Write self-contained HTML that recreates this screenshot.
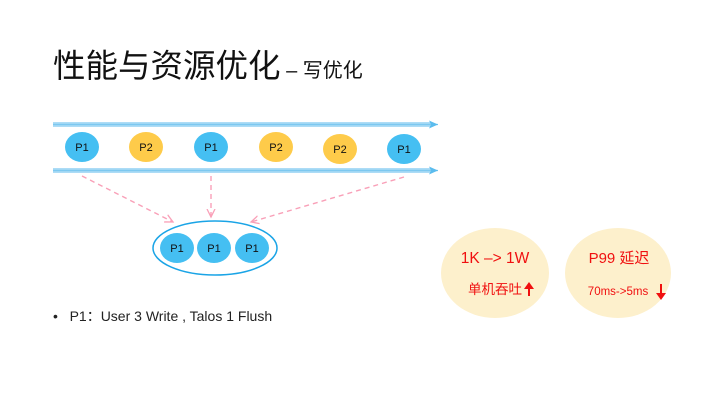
<!DOCTYPE html>
<html><head><meta charset="utf-8"><style>
body{margin:0;width:720px;height:405px;background:#fff;overflow:hidden;font-family:"Liberation Sans","Noto Sans CJK SC",sans-serif;position:relative}
.t{position:absolute;white-space:nowrap}
</style></head><body>
<div class="t" style="left:53px;top:40px;font-size:32.5px;color:#111">性能与资源优化<span style="font-size:20px"> – 写优化</span></div>
<svg width="720" height="405" style="position:absolute;left:0;top:0" font-family="Liberation Sans, sans-serif">
<defs>
<marker id="a" markerWidth="10" markerHeight="10" refX="9" refY="5" orient="auto" markerUnits="userSpaceOnUse"><path d="M0,1 L9,5 L0,9 L2,5 Z" fill="#5bbcee"/></marker>
<marker id="p" markerWidth="10" markerHeight="10" refX="8" refY="5" orient="auto" markerUnits="userSpaceOnUse"><path d="M0,1 L8,5 L0,9" fill="none" stroke="#f9a0b8" stroke-width="1.3"/></marker>
</defs>
<g stroke="#7cc8f0" stroke-width="1.2" fill="none">
<line x1="53" y1="123" x2="432" y2="123"/><line x1="53" y1="126" x2="432" y2="126"/>
<line x1="53" y1="169" x2="432" y2="169"/><line x1="53" y1="172" x2="432" y2="172"/>
<line x1="53" y1="124.5" x2="438" y2="124.5" marker-end="url(#a)"/><line x1="53" y1="170.5" x2="438" y2="170.5" marker-end="url(#a)"/>
</g>
<g stroke="#f9a0b8" stroke-width="1.4" stroke-dasharray="5,4" fill="none">
<line x1="82" y1="176" x2="173" y2="222" marker-end="url(#p)"/>
<line x1="211" y1="176" x2="211" y2="217" marker-end="url(#p)"/>
<line x1="404" y1="177" x2="251" y2="222" marker-end="url(#p)"/>
</g>
<g font-size="11" text-anchor="middle" fill="#111">
<ellipse cx="82" cy="147" rx="17" ry="15" fill="#45bff2"/><text x="82" y="151">P1</text>
<ellipse cx="146" cy="147" rx="17" ry="15" fill="#fecb4a"/><text x="146" y="151">P2</text>
<ellipse cx="211" cy="147" rx="17" ry="15" fill="#45bff2"/><text x="211" y="151">P1</text>
<ellipse cx="276" cy="147" rx="17" ry="15" fill="#fecb4a"/><text x="276" y="151">P2</text>
<ellipse cx="340" cy="149" rx="17" ry="15" fill="#fecb4a"/><text x="340" y="153">P2</text>
<ellipse cx="404" cy="149" rx="17" ry="15" fill="#45bff2"/><text x="404" y="153">P1</text>
<ellipse cx="215" cy="248" rx="62" ry="27" fill="none" stroke="#1aa4e6" stroke-width="1.5"/>
<ellipse cx="177" cy="248" rx="17" ry="15" fill="#45bff2"/><text x="177" y="252">P1</text>
<ellipse cx="214" cy="248" rx="17" ry="15" fill="#45bff2"/><text x="214" y="252">P1</text>
<ellipse cx="252" cy="248" rx="17" ry="15" fill="#45bff2"/><text x="252" y="252">P1</text>
</g>
<ellipse cx="495" cy="273" rx="54" ry="45" fill="#fdf0cc"/>
<ellipse cx="618" cy="273" rx="53" ry="45" fill="#fdf0cc"/>
<g fill="#f01010">
<text x="495" y="263" font-size="15.5" text-anchor="middle">1K –&gt; 1W</text>
<text x="495" y="294" font-size="13.5" text-anchor="middle" font-family="Noto Sans CJK SC, sans-serif">单机吞吐</text>
<path d="M529,282 L524,289 L528,289 L528,296 L530,296 L530,289 L534,289 Z"/>
<text x="619" y="263" font-size="15" text-anchor="middle" font-family="Liberation Sans, Noto Sans CJK SC, sans-serif">P99 延迟</text>
<text x="618" y="295" font-size="11.5" text-anchor="middle">70ms-&gt;5ms</text>
<path d="M661,300 L656,293 L660,293 L660,284 L662,284 L662,293 L666,293 Z"/>
</g>
</svg>
<div class="t" style="left:53px;top:306px;font-size:14px;color:#222">•&nbsp;&nbsp;&nbsp;P1：User 3 Write , Talos 1 Flush</div>
</body></html>
